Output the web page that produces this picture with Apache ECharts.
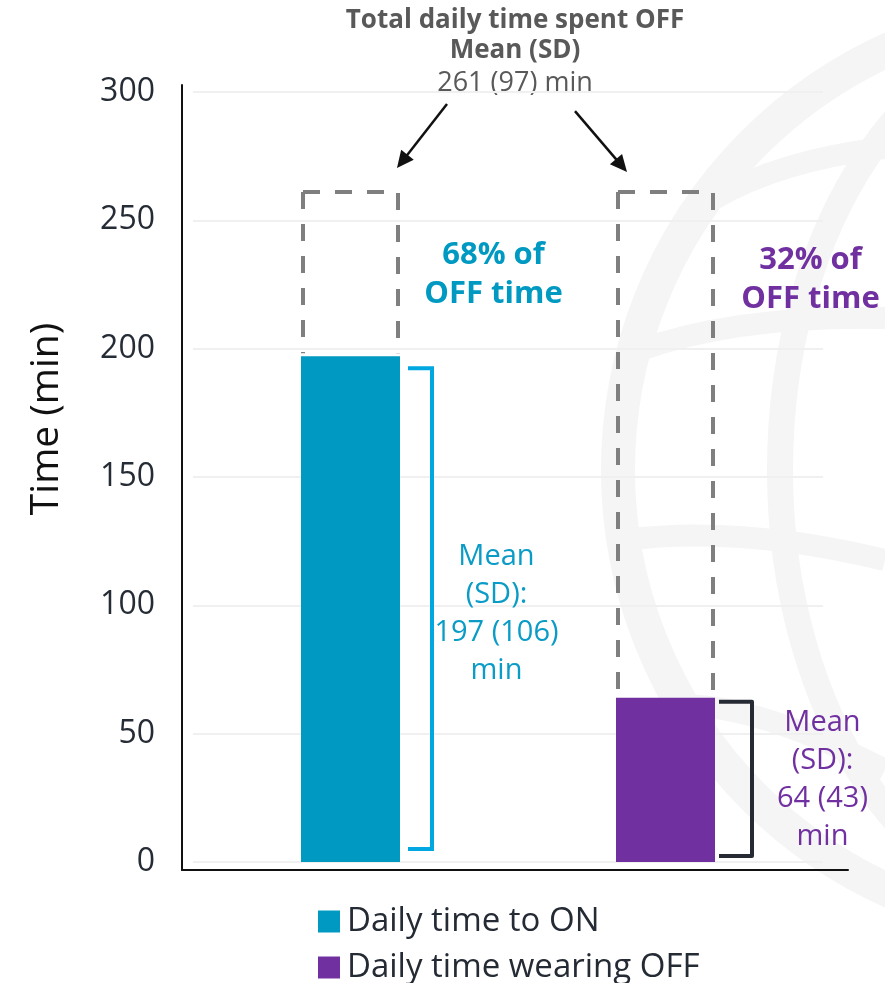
<!DOCTYPE html>
<html>
<head>
<meta charset="utf-8">
<title>Daily time spent OFF</title>
<script src="https://cdn.jsdelivr.net/npm/echarts@6/dist/echarts.min.js"></script>
<style>
  html, body { margin: 0; padding: 0; background: #ffffff; }
  #chart { width: 885px; height: 983px; }
</style>
</head>
<body>
<div id="chart"></div>
<script>
// ---- data ----
const categories = ['Daily time to ON', 'Daily time wearing OFF'];
const meanMinutes = [197, 64];
const sdMinutes = [106, 43];
const offSharePct = [68, 32];
const totalOffMean = 261;
const totalOffSd = 97;
const yTicks = [0, 50, 100, 150, 200, 250, 300];

// ---- styling ----
const FONT = "'Open Sans', 'Noto Sans', sans-serif";
const barColors = ['#0099c2', '#7030a0'];
const labelColors = ['#0a9cc6', '#7030a0'];
const bracketColors = ['#00a7e1', '#262b33'];
const BAR_W = 99;

const chart = echarts.init(document.getElementById('chart'), null, { renderer: 'canvas' });

// per-category placement of the bracket and its text (pixel offsets from the bar)
const bracketLayout = [
  { gap: 8, len: 24, topInset: 12, bottomInset: 13, textDx: 146, textDy: 5 },
  { gap: 4, len: 33, topInset: 4, bottomInset: 6, textDx: 157, textDy: 0 }
];
const shareLayout = [
  { dx: 143, value: 229 },
  { dx: 145, value: 227 }
];

function arrow(tail, tip, color) {
  const dx = tip[0] - tail[0], dy = tip[1] - tail[1];
  const L = Math.sqrt(dx * dx + dy * dy);
  const ux = dx / L, uy = dy / L;
  const headLen = 17, headW = 8;
  const bx = tip[0] - ux * headLen, by = tip[1] - uy * headLen;
  return [
    { type: 'line', shape: { x1: tail[0], y1: tail[1], x2: bx + ux * 2, y2: by + uy * 2 },
      style: { stroke: color, lineWidth: 2.5 } },
    { type: 'polygon', shape: { points: [tip, [bx - uy * headW, by + ux * headW], [bx + uy * headW, by - ux * headW]] },
      style: { fill: color } }
  ];
}

function renderAnnotations(params, api) {
  const i = api.value(0);
  const total = api.value(1);
  const mean = api.value(2);
  const top = api.coord([i, total]);
  const cx = top[0], yTop = top[1];
  const yMean = api.coord([i, mean])[1];
  const y0 = api.coord([i, 0])[1];
  const x0 = cx - BAR_W / 2 + 2, x1 = cx + BAR_W / 2 - 2;
  const dash = { stroke: '#7f7f7f', lineWidth: 4, lineDash: [17, 15], fill: null };
  const children = [];

  // dashed outline of the total OFF time above the bar
  children.push({ type: 'polyline', shape: { points: [[x0, yTop], [x0, yMean - 3]] }, style: dash });
  children.push({ type: 'polyline', shape: { points: [[x0, yTop], [x1, yTop], [x1, yMean - 3]] }, style: dash });

  // bracket beside the bar
  const b = bracketLayout[i];
  const bx0 = cx + BAR_W / 2 + b.gap, bx1 = bx0 + b.len;
  children.push({
    type: 'polyline',
    shape: { points: [[bx0, yMean + b.topInset], [bx1, yMean + b.topInset], [bx1, y0 - b.bottomInset], [bx0, y0 - b.bottomInset]] },
    style: { stroke: bracketColors[i], lineWidth: 4, fill: null, lineJoin: i === 1 ? 'round' : 'miter' }
  });

  // mean (SD) label
  children.push({
    type: 'text',
    style: {
      text: 'Mean\n(SD):\n' + meanMinutes[i] + ' (' + sdMinutes[i] + ')\nmin',
      x: cx + b.textDx, y: (yMean + y0) / 2 + b.textDy,
      align: 'center', verticalAlign: 'middle',
      fontSize: 29, fontFamily: FONT, lineHeight: 38, fill: labelColors[i]
    }
  });

  // share of OFF time
  const s = shareLayout[i];
  children.push({
    type: 'text',
    style: {
      text: offSharePct[i] + '% of\nOFF time',
      x: cx + s.dx, y: api.coord([i, s.value])[1],
      align: 'center', verticalAlign: 'middle',
      fontSize: 31, fontWeight: 'bold', fontFamily: FONT, lineHeight: 39, fill: barColors[i]
    }
  });

  // arrow from the heading down to the outline
  if (i === 0) {
    const tip = [x1 - 1, yTop - 24];
    children.push(...arrow([tip[0] + 50, tip[1] - 64], tip, '#111111'));
  } else {
    const tip = [x0 + 9, yTop - 20];
    children.push(...arrow([tip[0] - 52, tip[1] - 61], tip, '#111111'));
  }
  return { type: 'group', children: children };
}

// faint globe watermark in the background
const WM = '#f5f5f5';
const wmStyle = (w) => ({ stroke: WM, lineWidth: w, fill: null });
const watermark = [
  { type: 'circle', shape: { cx: 1080, cy: 470, r: 462 }, style: wmStyle(34), z: -10, silent: true },
  { type: 'ellipse', shape: { cx: 1080, cy: 470, rx: 300, ry: 445 }, style: wmStyle(26), z: -10, silent: true },
  { type: 'bezierCurve', shape: { x1: 712, y1: 200, x2: 885, y2: 148, cpx1: 780, cpy1: 160 }, style: wmStyle(22), z: -10, silent: true },
  { type: 'bezierCurve', shape: { x1: 640, y1: 350, x2: 885, y2: 318, cpx1: 740, cpy1: 315 }, style: wmStyle(22), z: -10, silent: true },
  { type: 'bezierCurve', shape: { x1: 625, y1: 540, x2: 885, y2: 560, cpx1: 740, cpy1: 525 }, style: wmStyle(22), z: -10, silent: true },
  { type: 'bezierCurve', shape: { x1: 680, y1: 705, x2: 885, y2: 770, cpx1: 760, cpy1: 705 }, style: wmStyle(22), z: -10, silent: true }
];

const headingStyle = { align: 'center', verticalAlign: 'middle', fontFamily: FONT, fill: '#595959' };

const option = {
  animation: false,
  backgroundColor: '#ffffff',
  graphic: watermark.concat([
    { type: 'text', x: 515, y: 21, style: Object.assign({ text: 'Total daily time spent OFF', fontSize: 26, fontWeight: 'bold' }, headingStyle) },
    { type: 'text', x: 515, y: 51, style: Object.assign({ text: 'Mean (SD)', fontSize: 26, fontWeight: 'bold' }, headingStyle) },
    { type: 'text', x: 515, y: 83, style: Object.assign({ text: totalOffMean + ' (' + totalOffSd + ') min', fontSize: 27 }, headingStyle) },
    { type: 'text', x: 47, y: 419, rotation: Math.PI / 2,
      style: { text: 'Time (min)', align: 'center', verticalAlign: 'middle', fontSize: 39, fontFamily: FONT, fill: '#111111' } }
  ]),
  legend: {
    orient: 'vertical',
    left: 318,
    top: 905,
    height: 150,
    padding: 0,
    icon: 'rect',
    itemWidth: 22,
    itemHeight: 22,
    itemGap: 13,
    data: categories,
    textStyle: { fontSize: 33, lineHeight: 32, fontFamily: FONT, color: '#252b35', padding: [0, 0, 0, 2] }
  },
  grid: [
    { left: 193, right: 62, top: 92, bottom: 121 },
    { left: 182, right: 37, top: 85, bottom: 113 }
  ],
  xAxis: [
    { type: 'category', gridIndex: 0, data: categories, axisLine: { show: false }, axisTick: { show: false },
      axisLabel: { show: false }, splitLine: { show: false } },
    { type: 'value', gridIndex: 1, min: 0, max: 1, axisLine: { show: true, onZero: false, lineStyle: { color: '#111111', width: 2 } },
      axisTick: { show: false }, axisLabel: { show: false }, splitLine: { show: false } }
  ],
  yAxis: [
    { type: 'value', gridIndex: 0, min: yTicks[0], max: yTicks[yTicks.length - 1], interval: yTicks[1] - yTicks[0],
      axisLine: { show: false }, axisTick: { show: false },
      axisLabel: { fontSize: 32, fontFamily: FONT, color: '#262c36', margin: 38 },
      splitLine: { show: true, lineStyle: { color: '#f0f0f0', width: 2 } } },
    { type: 'value', gridIndex: 1, min: 0, max: 1, axisLine: { show: true, onZero: false, lineStyle: { color: '#111111', width: 2 } },
      axisTick: { show: false }, axisLabel: { show: false }, splitLine: { show: false } }
  ],
  series: [
    { name: categories[0], type: 'bar', xAxisIndex: 0, yAxisIndex: 0, barWidth: BAR_W, barGap: '-100%',
      itemStyle: { color: barColors[0] }, data: [meanMinutes[0], '-'], z: 3 },
    { name: categories[1], type: 'bar', xAxisIndex: 0, yAxisIndex: 0, barWidth: BAR_W, barGap: '-100%',
      itemStyle: { color: barColors[1] }, data: ['-', meanMinutes[1]], z: 3 },
    { name: 'annotations', type: 'custom', xAxisIndex: 0, yAxisIndex: 0, renderItem: renderAnnotations, clip: false, z: 4,
      silent: true, data: categories.map((c, i) => [i, totalOffMean, meanMinutes[i]]) }
  ]
};

chart.setOption(option);
</script>
</body>
</html>
